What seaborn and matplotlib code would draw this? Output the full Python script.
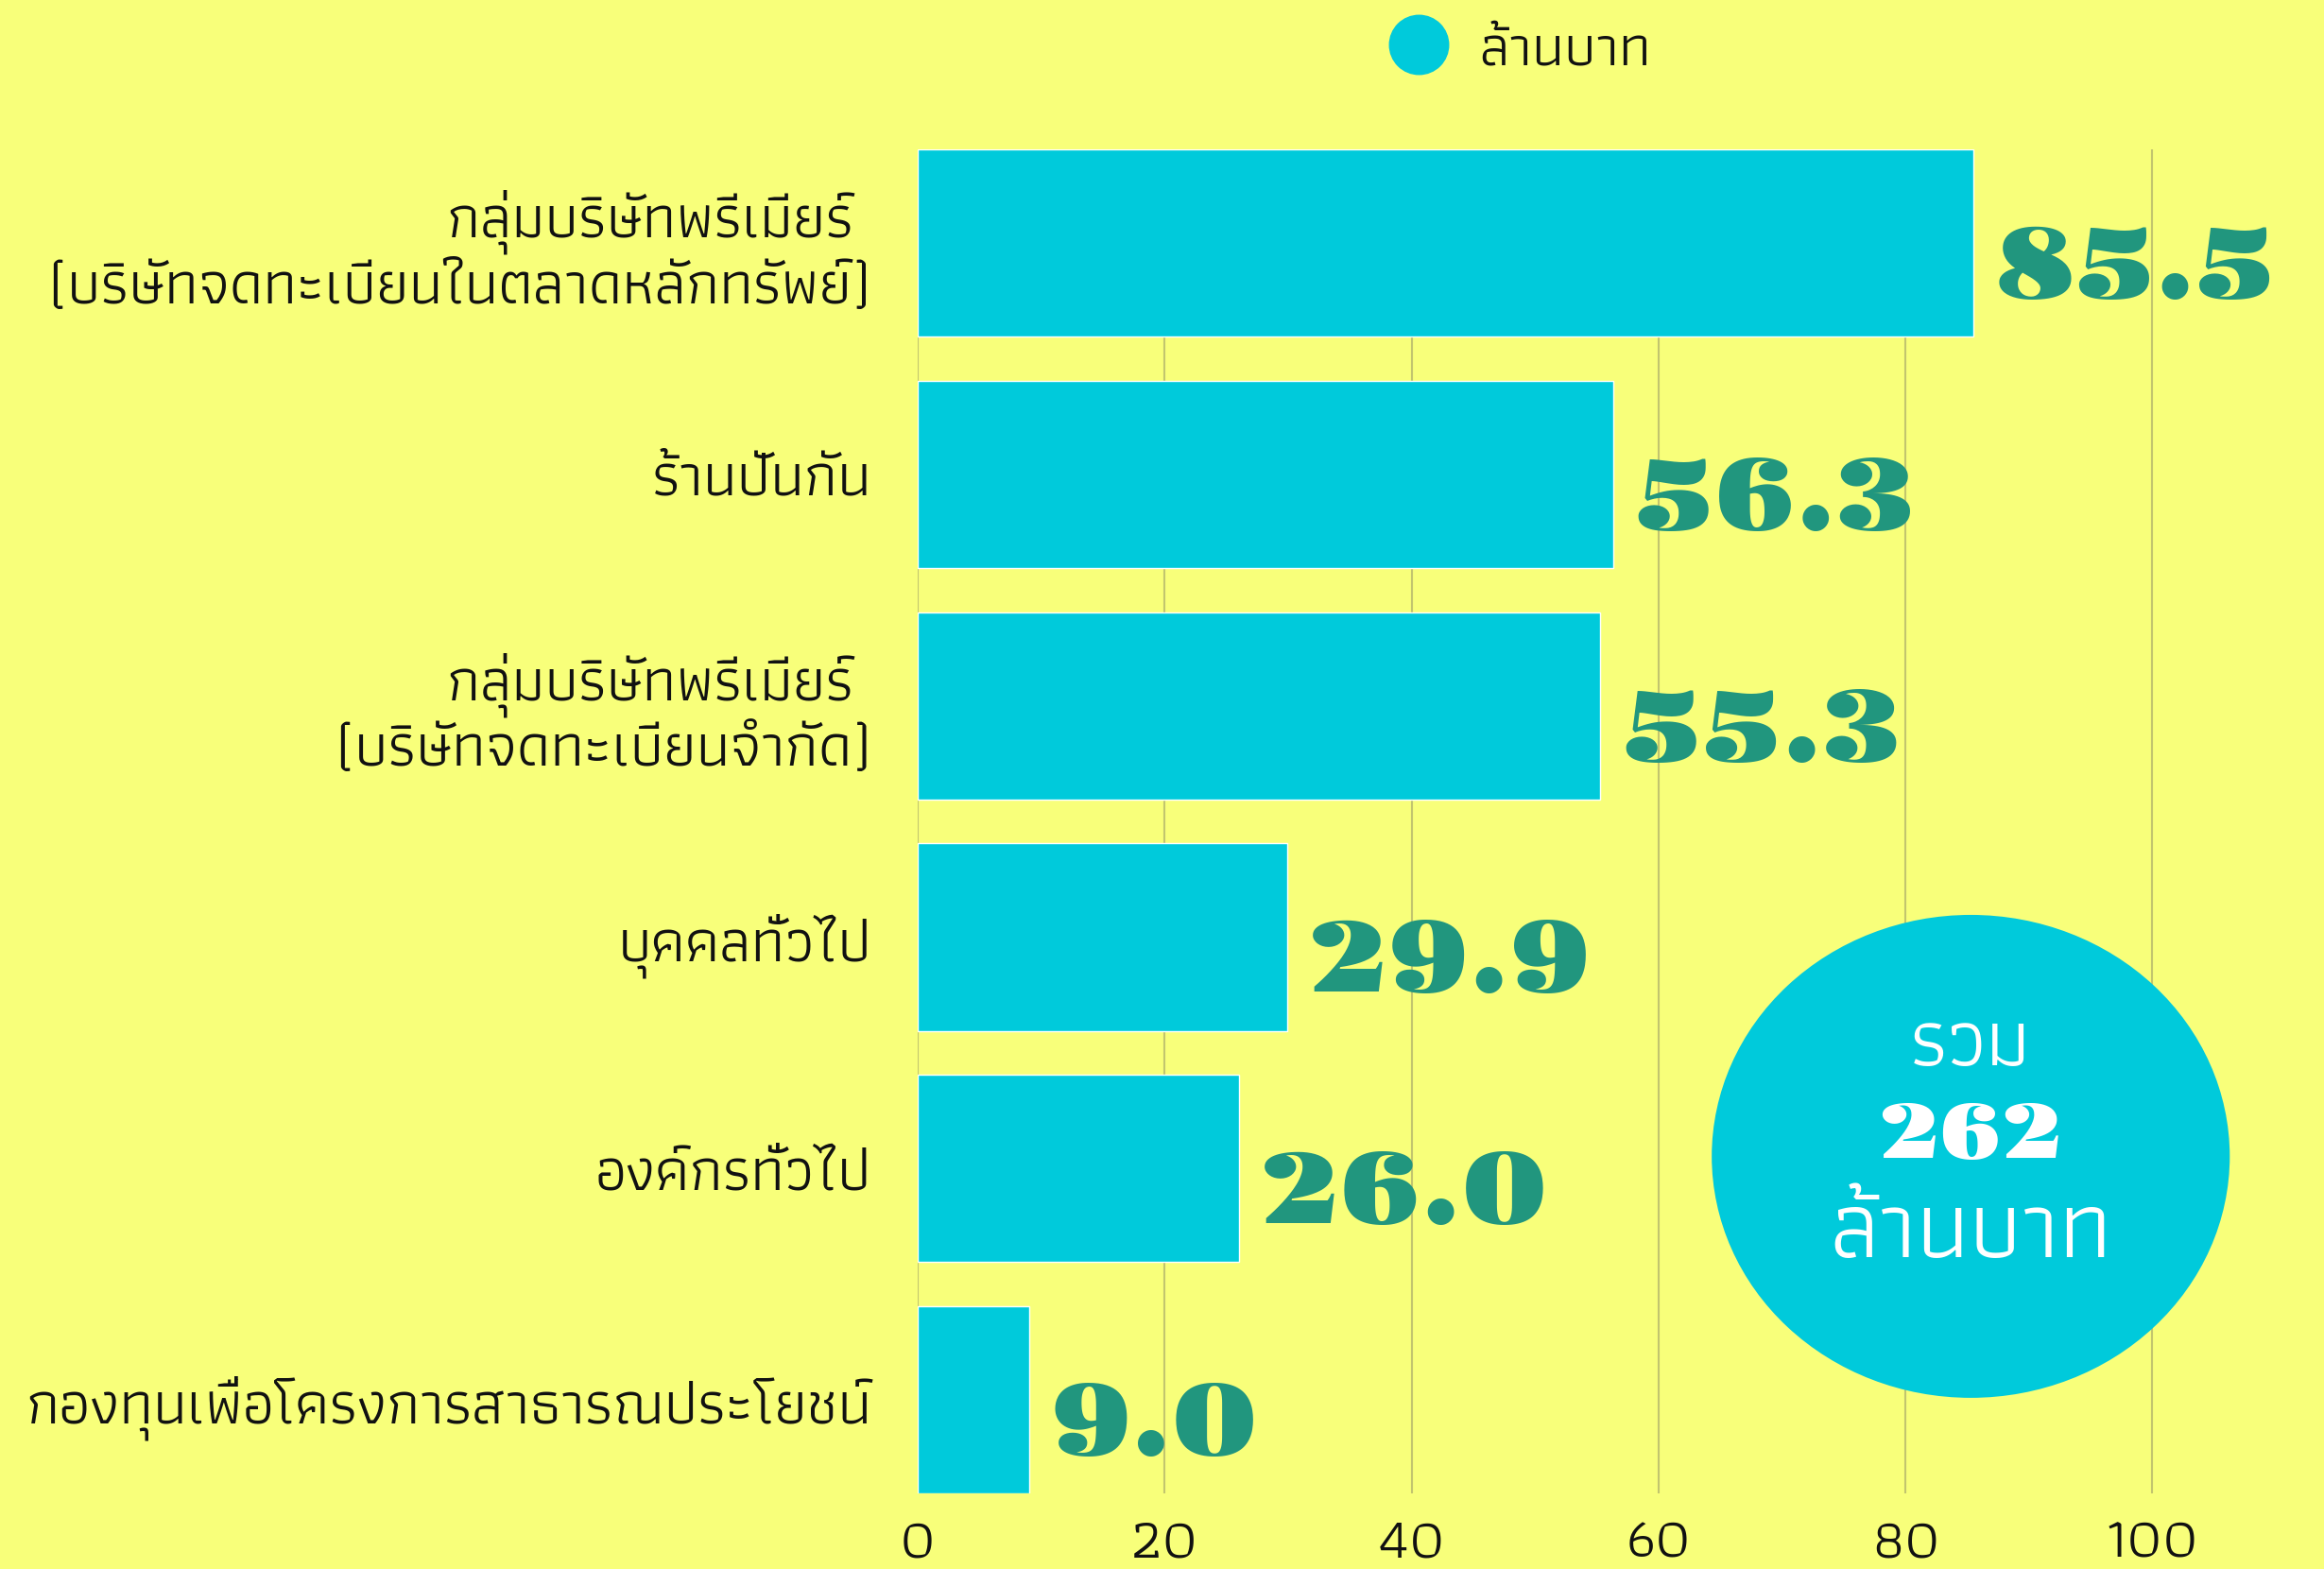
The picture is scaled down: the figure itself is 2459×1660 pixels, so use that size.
import numpy as np
import pandas as pd
import seaborn as sns
import matplotlib.pyplot as plt
from matplotlib.lines import Line2D
from matplotlib.patches import Ellipse

# data
groups = ["กลุ่มบริษัทพรีเมียร์ \n(บริษัทจดทะเบียนในตลาดหลักทรัพย์)",
          "ร้านปันกัน",
          "กลุ่มบริษัทพรีเมียร์ \n(บริษัทจดทะเบียนจำกัด)",
          "บุคคลทั่วไป",
          "องค์กรทั่วไป",
          "กองทุนเพื่อโครงการสาธารณประโยชน์"]
amounts = [85.5, 56.3, 55.3, 29.9, 26.0, 9.0]
x_ticks = [0, 20, 40, 60, 80, 100]
unit = "ล้านบาท"
total_label = "รวม"
total = 262

bg = '#f8ff7a'
bar_col = '#00cadb'
val_col = '#21967e'

sns.set_theme(style='white')
plt.rcParams['font.family'] = ['Athiti', 'DejaVu Sans']
plt.rcParams['text.color'] = '#111111'

fig = plt.figure(figsize=(24.59, 16.60), dpi=100, facecolor=bg)
ax = fig.add_axes([0.3949, 0.0482, 0.6051, 0.8566])
ax.set_facecolor(bg)

df = pd.DataFrame({'group': groups, 'amount': amounts})
sns.barplot(data=df, x='amount', y='group', color=bar_col, width=0.81,
            saturation=1, ax=ax, zorder=2)

ax.set_xlim(0, 113.9)
ax.set_ylim(5.405, -0.405)
ax.set_xticks(x_ticks)
ax.grid(axis='x', color='#c2c56e', linewidth=1.5, zorder=0)
ax.set_axisbelow(True)
for s in ax.spines.values():
    s.set_visible(False)
ax.set_xlabel('')
ax.set_ylabel('')
ax.tick_params(axis='x', length=0, pad=19, labelsize=44, labelcolor='#111111')
ax.tick_params(axis='y', length=0, pad=35, labelsize=46, labelcolor='#111111')
for lab in ax.get_yticklabels():
    lab.set_linespacing(1.17)

# value labels
for i, v in enumerate(amounts):
    ax.annotate(f'{v:.1f}', xy=(v, i + 0.12), xytext=(22, 0),
                textcoords='offset pixels', va='center', ha='left',
                fontsize=76, family='Gravitas One', color=val_col)

# legend
h = Line2D([], [], marker='o', linestyle='', markersize=45,
           markerfacecolor=bar_col, markeredgecolor=bar_col)
fig.legend([h], [unit], loc='center left', bbox_to_anchor=(0.598, 0.9685),
           frameon=False, fontsize=44, handlelength=1, handletextpad=0.55,
           borderpad=0, borderaxespad=0)

# total bubble
cx = 0.848
fig.patches.append(Ellipse((cx, 0.263), 0.2229, 0.3078, transform=fig.transFigure,
                           facecolor=bar_col, edgecolor='none', zorder=5))
fig.text(cx, 1 - 1106 / 1660, total_label, ha='center', va='center', color='white',
         fontsize=62, zorder=6)
fig.text(cx, 1 - 1203 / 1660, str(total), ha='center', va='center', color='white',
         fontsize=58, family='Gravitas One', zorder=6)
fig.text(cx, 1 - 1306 / 1660, unit, ha='center', va='center', color='white',
         fontsize=72, zorder=6)

fig.savefig('out.png', dpi=100, facecolor=bg)
